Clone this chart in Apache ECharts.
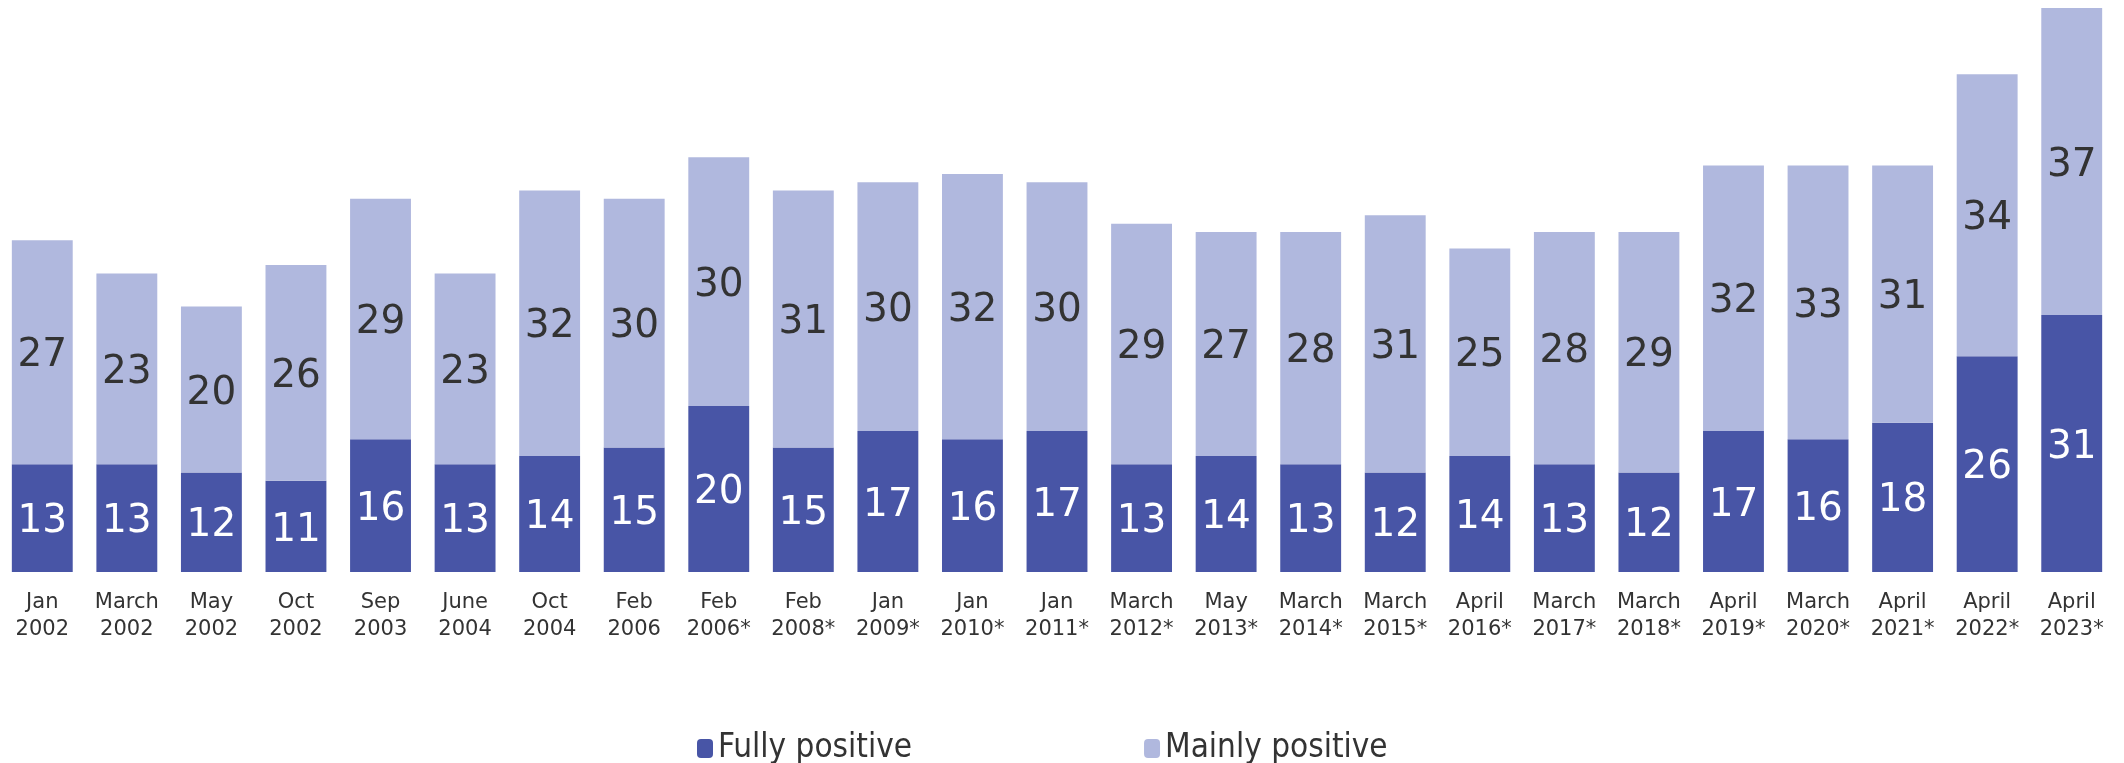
<!DOCTYPE html>
<html>
<head>
<meta charset="utf-8">
<script src="https://cdn.jsdelivr.net/npm/echarts@6/dist/echarts.min.js"></script>
<style>html,body{margin:0;padding:0;background:#fff;}#c{width:2124px;height:763px;}</style>
</head>
<body>
<div id="c"></div>
<script>
const categories = ["Jan\n2002","March\n2002","May\n2002","Oct\n2002","Sep\n2003","June\n2004","Oct\n2004","Feb\n2006","Feb\n2006*","Feb\n2008*","Jan\n2009*","Jan\n2010*","Jan\n2011*","March\n2012*","May\n2013*","March\n2014*","March\n2015*","April\n2016*","March\n2017*","March\n2018*","April\n2019*","March\n2020*","April\n2021*","April\n2022*","April\n2023*"];
const fullyPositive = [13,13,12,11,16,13,14,15,20,15,17,16,17,13,14,13,12,14,13,12,17,16,18,26,31];
const mainlyPositive = [27,23,20,26,29,23,32,30,30,31,30,32,30,29,27,28,31,25,28,29,32,33,31,34,37];

const chart = echarts.init(document.getElementById('c'));
chart.setOption({
  animation: false,
  grid: {left: 0, right: 10, top: 8, bottom: 191, containLabel: false},
  legend: {
    left: 692, top: 727,
    itemWidth: 16, itemHeight: 19, itemGap: 232,
    textStyle: {fontFamily: 'DejaVu Sans Condensed', fontSize: 33, color: '#333'},
    data: ['Fully positive', 'Mainly positive']
  },
  xAxis: {
    type: 'category', data: categories,
    axisLine: {show: false}, axisTick: {show: false},
    axisLabel: {fontFamily: 'DejaVu Sans', fontSize: 21, lineHeight: 27, color: '#333', margin: 17, interval: 0}
  },
  yAxis: {type: 'value', min: 0, max: 68, show: false, splitLine: {show: false}},
  series: [
    {
      name: 'Fully positive', type: 'bar', stack: 'a', data: fullyPositive,
      barCategoryGap: '28%',
      itemStyle: {color: '#4855A6'},
      label: {show: true, position: 'inside', offset: [0, 4], color: '#fff', fontFamily: 'DejaVu Sans', fontSize: 39}
    },
    {
      name: 'Mainly positive', type: 'bar', stack: 'a', data: mainlyPositive,
      barCategoryGap: '28%',
      itemStyle: {color: '#B0B8DE'},
      label: {show: true, position: 'inside', offset: [0, 4], color: '#333', fontFamily: 'DejaVu Sans', fontSize: 39}
    }
  ]
});
</script>
</body>
</html>
